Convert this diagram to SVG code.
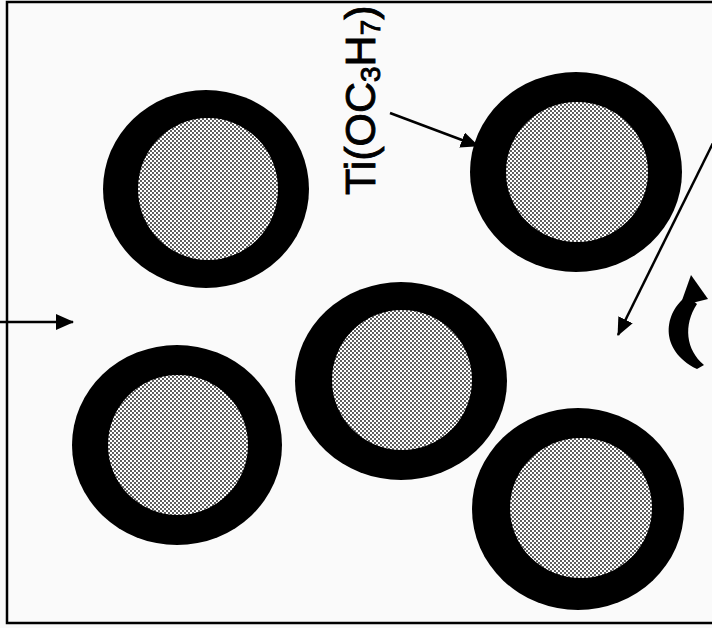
<svg xmlns="http://www.w3.org/2000/svg" width="712" height="628" viewBox="0 0 712 628">
<defs>
<pattern id="dots" patternUnits="userSpaceOnUse" width="4" height="4">
<rect width="4" height="4" fill="#ffffff"/>
<circle cx="1" cy="1" r="0.9" fill="#111"/>
<circle cx="3" cy="3" r="0.9" fill="#111"/>
</pattern>
<marker id="ah" markerWidth="18" markerHeight="16" refX="17" refY="8" orient="auto" markerUnits="userSpaceOnUse">
<path d="M0,0 L18,8 L0,16 Z" fill="#000"/>
</marker>
<style>
.ring{fill:#000}
.core{fill:url(#dots)}
.conn{stroke:#000;stroke-width:2.5;fill:none}
.lbl{font-family:"Liberation Sans",Arial,sans-serif;font-size:43px;fill:#000;stroke:#000;stroke-width:0.9px}
.sub{font-size:28px}
</style>
</defs>
<rect x="0" y="0" width="712" height="628" fill="#fafafa"/>
<rect x="7" y="2" width="720" height="621" fill="none" stroke="#000" stroke-width="2.5"/>
<g id="particle1"><ellipse class="ring" cx="206" cy="189" rx="103" ry="99"/><ellipse class="core" cx="208" cy="189" rx="70" ry="71"/></g>
<g id="particle2"><ellipse class="ring" cx="576" cy="172" rx="106" ry="100"/><ellipse class="core" cx="577" cy="172" rx="71" ry="70"/></g>
<g id="particle3"><ellipse class="ring" cx="401" cy="381" rx="106" ry="99"/><ellipse class="core" cx="402" cy="380" rx="70" ry="70"/></g>
<g id="particle4"><ellipse class="ring" cx="177" cy="445" rx="105" ry="100"/><ellipse class="core" cx="178" cy="445" rx="70" ry="70"/></g>
<g id="particle5"><ellipse class="ring" cx="578" cy="509" rx="106" ry="101"/><ellipse class="core" cx="581" cy="508" rx="71" ry="70"/></g>
<g id="label">
<text class="lbl" transform="translate(375,195) rotate(-90)">Ti(OC<tspan class="sub" dy="5">3</tspan><tspan dy="-5">H</tspan><tspan class="sub" dy="5">7</tspan><tspan dy="-5">)</tspan></text>
</g>
<g id="rotation">
<path d="M687 296 C664 312 658 350 697 369 L704 365 C686 350 683 325 697 304 Z" fill="#000"/>
<path d="M691 275 L708 299 L680 306 Z" fill="#000"/>
</g>
<g id="connectors">
<line class="conn" x1="0" y1="322" x2="73" y2="322" marker-end="url(#ah)"/>
<line class="conn" x1="390" y1="113" x2="478" y2="146" marker-end="url(#ah)"/>
<line class="conn" x1="714" y1="141" x2="618" y2="335" marker-end="url(#ah)"/>
</g>
</svg>
